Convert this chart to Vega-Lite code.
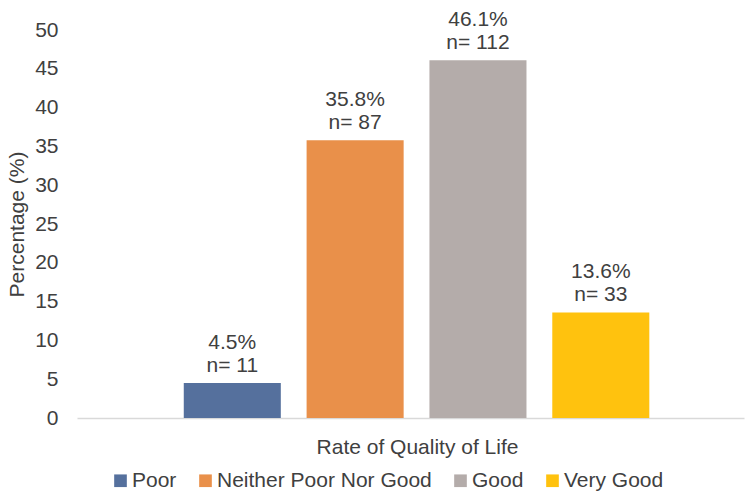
{
  "$schema": "https://vega.github.io/schema/vega-lite/v6.json",
  "width": 667,
  "height": 388,
  "autosize": {"type": "none"},
  "padding": {"left": 77, "top": 30, "right": 1, "bottom": 74},
  "background": "white",
  "config": {
    "view": {"stroke": null},
    "font": "Liberation Sans",
    "text": {"font": "Liberation Sans"}
  },
  "data": {
    "values": [
      {"cat": "Poor", "pct": 4.5, "pctLabel": "4.5%", "nLabel": "n= 11"},
      {"cat": "Neither Poor Nor Good", "pct": 35.8, "pctLabel": "35.8%", "nLabel": "n= 87"},
      {"cat": "Good", "pct": 46.1, "pctLabel": "46.1%", "nLabel": "n= 112"},
      {"cat": "Very Good", "pct": 13.6, "pctLabel": "13.6%", "nLabel": "n= 33"}
    ]
  },
  "encoding": {
    "x": {
      "field": "cat",
      "type": "nominal",
      "sort": null,
      "scale": {"paddingInner": 0.21, "paddingOuter": 0.82, "align": 0.53},
      "axis": {
        "title": "Rate of Quality of Life",
        "labels": false,
        "ticks": false,
        "domainColor": "#D9D9D9",
        "domainWidth": 1.3,
        "titleFontSize": 21,
        "titleFontWeight": "normal",
        "titleColor": "#404040",
        "titleX": 340,
        "titleY": 35,
        "titleAlign": "center",
        "titleBaseline": "alphabetic"
      }
    },
    "y": {
      "field": "pct",
      "type": "quantitative",
      "scale": {"domain": [0, 50]},
      "axis": {
        "title": "Percentage (%)",
        "values": [0, 5, 10, 15, 20, 25, 30, 35, 40, 45, 50],
        "grid": false,
        "domain": false,
        "ticks": false,
        "labelPadding": 19,
        "labelFontSize": 21,
        "labelColor": "#404040",
        "titleFontSize": 21,
        "titleFontWeight": "normal",
        "titleColor": "#404040",
        "titlePadding": 7
      }
    }
  },
  "layer": [
    {
      "mark": {"type": "bar"},
      "encoding": {
        "color": {
          "field": "cat",
          "type": "nominal",
          "sort": null,
          "scale": {
            "domain": ["Poor", "Neither Poor Nor Good", "Good", "Very Good"],
            "range": ["#55709D", "#E9904A", "#B4ACAA", "#FFC20E"]
          },
          "legend": {
            "title": null,
            "orient": "none",
            "legendX": 33,
            "legendY": 440,
            "padding": 0,
            "direction": "horizontal",
            "symbolType": "square",
            "symbolSize": 160,
            "symbolStrokeWidth": 0,
            "labelFontSize": 21,
            "labelColor": "#404040",
            "labelLimit": 400,
            "columnPadding": 18,
            "labelOffset": 1
          }
        }
      }
    },
    {
      "mark": {"type": "text", "baseline": "alphabetic", "dy": -11, "fontSize": 21, "color": "#404040"},
      "encoding": {"text": {"field": "nLabel"}}
    },
    {
      "mark": {"type": "text", "baseline": "alphabetic", "dy": -34, "fontSize": 21, "color": "#404040"},
      "encoding": {"text": {"field": "pctLabel"}}
    }
  ]
}
